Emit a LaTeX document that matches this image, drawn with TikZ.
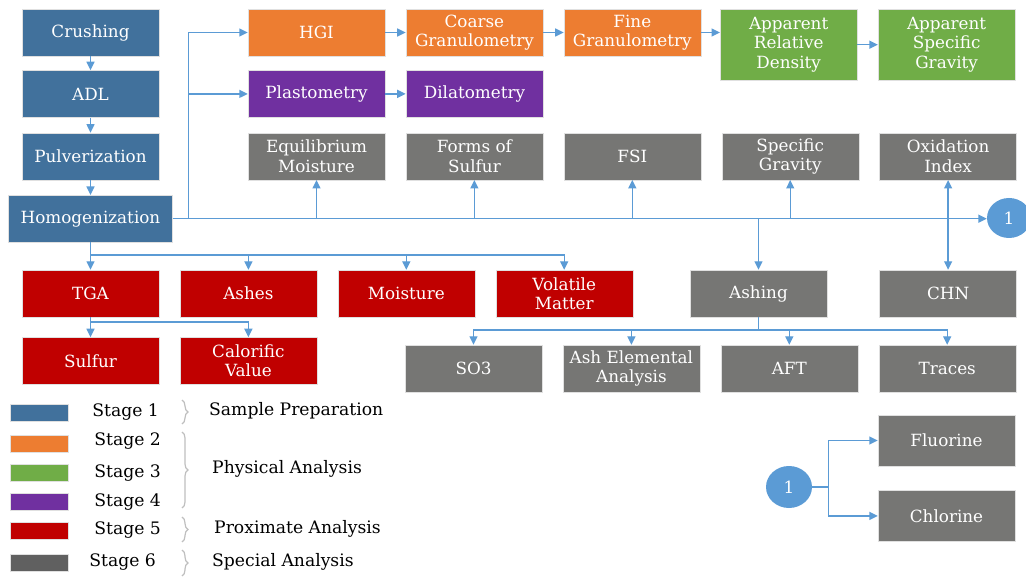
\documentclass[tikz,border=0pt]{standalone}
\usepackage{fontspec}
\setmainfont{DejaVu Serif}
\usepackage{xcolor}
\usepackage{tikz}
\usetikzlibrary{shapes.geometric,arrows.meta,positioning,decorations.pathreplacing}
\definecolor{prepcolor}{RGB}{65,113,156}
\definecolor{physcolor}{RGB}{237,125,49}
\definecolor{denscolor}{RGB}{112,173,71}
\definecolor{plastcolor}{RGB}{112,48,160}
\definecolor{proxcolor}{RGB}{192,0,0}
\definecolor{specialcolor}{RGB}{118,118,116}
\definecolor{legendgray}{RGB}{96,96,96}
\definecolor{linkcolor}{RGB}{91,155,213}
\newcommand{\boxfont}{\fontsize{16.8}{19.5}\selectfont}
\newcommand{\tagfont}{\fontsize{17.2}{19.5}\selectfont}

\begin{document}
\begin{tikzpicture}[x=1pt,y=-1pt,node distance=20.5pt,>={Triangle[length=8.5pt,width=8pt]},
 box/.style={draw=black!12,rectangle,minimum width=137pt,minimum height=47pt,inner sep=0pt,align=center,text=white,font=\boxfont},
 link/.style={draw=linkcolor,line width=1.4pt},
 swatch/.style={draw=black!12,rectangle,minimum width=58pt,minimum height=17pt,inner sep=0pt},
 tag/.style={font=\tagfont,inner sep=0pt,anchor=west},
 group/.style={draw=black!25,line width=1.2pt,decorate,decoration={brace,amplitude=6pt}}]
\useasboundingbox (0,0) rectangle (1026,577);
% stage 1: sample preparation
\node[box,fill=prepcolor](crush) at (90.5,32.5){Crushing};
\node[box,fill=prepcolor,below=14pt of crush](adl){ADL};
\node[box,fill=prepcolor,below=15pt of adl](pulv){Pulverization};
\node[box,fill=prepcolor,minimum width=164pt,below=15pt of pulv](homog){Homogenization};
\draw[link,->](crush)--(adl); \draw[link,->](adl)--(pulv); \draw[link,->](pulv)--(homog);
% stages 2-4: physical analysis
\node[box,fill=physcolor](hgi) at (316.5,32.5){HGI};
\node[box,fill=physcolor,right=of hgi](coarse){Coarse\\Granulometry};
\node[box,fill=physcolor,right=of coarse](fine){Fine\\Granulometry};
\node[box,fill=denscolor,minimum height=71pt,anchor=north west](ard) at (720,9){Apparent\\Relative\\Density};
\node[box,fill=denscolor,minimum height=71pt,right=of ard](asg){Apparent\\Specific\\Gravity};
\draw[link,->](hgi)--(coarse); \draw[link,->](coarse)--(fine);
\draw[link,->](fine)--(fine-|ard.west); \draw[link,->](ard)--(asg);
\node[box,fill=plastcolor,below=14pt of hgi](plasto){Plastometry};
\node[box,fill=plastcolor,right=of plasto](dilato){Dilatometry};
\draw[link,->](plasto)--(dilato);
% stage 6: special analysis
\node[box,fill=specialcolor,below=15pt of plasto](eqm){Equilibrium\\Moisture};
\node[box,fill=specialcolor,right=of eqm](forms){Forms of\\Sulfur};
\node[box,fill=specialcolor,right=of forms](fsi){FSI};
\node[box,fill=specialcolor,right=of fsi](sg){Specific\\Gravity};
\node[box,fill=specialcolor,right=of sg](oxi){Oxidation\\Index};
\node[ellipse,fill=linkcolor,minimum width=44pt,minimum height=40pt,text=white,font=\boxfont](one) at (1009,218){1};
\draw[link,->](homog.east)--(homog.east-|one.west);
\coordinate[right=16pt of homog.east](split);
\draw[link,->](split)|-(hgi); \draw[link,->](split)|-(plasto);
\foreach \n in {eqm,forms,fsi,sg,oxi} \draw[link,->](\n|-split)--(\n);
\node[box,fill=specialcolor](ashing) at (758.5,293.5){Ashing};
\node[box,fill=specialcolor](chn) at (oxi|-ashing){CHN};
\draw[link,->](ashing|-split)--(ashing); \draw[link,->](chn|-split)--(chn);
% stage 5: proximate analysis
\node[box,fill=proxcolor](tga) at (90.5,293.5){TGA};
\node[box,fill=proxcolor,right=of tga](ashes){Ashes};
\node[box,fill=proxcolor,right=of ashes](moist){Moisture};
\node[box,fill=proxcolor,right=of moist](volat){Volatile\\Matter};
\coordinate[below=12.5pt of homog](redbus);
\draw[link,->](homog)--(tga);
\foreach \n in {ashes,moist,volat} \draw[link,->](redbus)-|(\n);
\node[box,fill=proxcolor,below=20pt of tga](sulfur){Sulfur};
\node[box,fill=proxcolor,right=of sulfur](calor){Calorific\\Value};
\coordinate[below=5pt of tga](tgabus);
\draw[link,->](tga)--(sulfur); \draw[link,->](tgabus)-|(calor);
% ashing products
\node[box,fill=specialcolor](so3) at (473.5,368.5){SO3};
\node[box,fill=specialcolor,right=of so3](ashel){Ash Elemental\\Analysis};
\node[box,fill=specialcolor,right=of ashel](aft){AFT};
\node[box,fill=specialcolor,right=of aft](traces){Traces};
\coordinate[below=13pt of ashing](ashbus);
\draw[link](ashing)--(ashbus);
\foreach \n in {so3,ashel,aft,traces} \draw[link,->](ashbus)-|(\n);
% continuation 1
\node[ellipse,fill=linkcolor,minimum width=46pt,minimum height=42pt,text=white,font=\boxfont](two) at (789,487){1};
\node[box,fill=specialcolor,minimum height=51pt](fluor) at (946.5,440.5){Fluorine};
\node[box,fill=specialcolor,minimum height=51pt,below=24pt of fluor](chlor){Chlorine};
\coordinate[right=16pt of two.east](fork);
\draw[link](two)--(fork);
\draw[link,->](fork)|-(fluor); \draw[link,->](fork)|-(chlor);
% legend
\node[swatch,fill=prepcolor](sw1) at (39,412.5){};
\node[swatch,fill=physcolor](sw2) at (39,443.5){};
\node[swatch,fill=denscolor](sw3) at (39,473){};
\node[swatch,fill=plastcolor](sw4) at (39,502){};
\node[swatch,fill=proxcolor](sw5) at (39,530.5){};
\node[swatch,fill=legendgray](sw6) at (39,562.5){};
\node[tag,right=24pt of sw1](st1){Stage 1};
\node[tag,right=26pt of sw2,yshift=2pt](st2){Stage 2};
\node[tag,right=26pt of sw3](st3){Stage 3};
\node[tag,right=26pt of sw4](st4){Stage 4};
\node[tag,right=26pt of sw5](st5){Stage 5};
\node[tag,right=21pt of sw6](st6){Stage 6};
\draw[group](182,400)--(182,424);
\draw[group](182,432)--(182,508);
\draw[group](182,517)--(182,542);
\draw[group](182,550)--(182,576);
\node[tag](prep) at (209,411){Sample Preparation};
\node[tag](phys) at (212,469){Physical Analysis};
\node[tag](prox) at (214,529){Proximate Analysis};
\node[tag](spec) at (212,562){Special Analysis};
\end{tikzpicture}
\end{document}
